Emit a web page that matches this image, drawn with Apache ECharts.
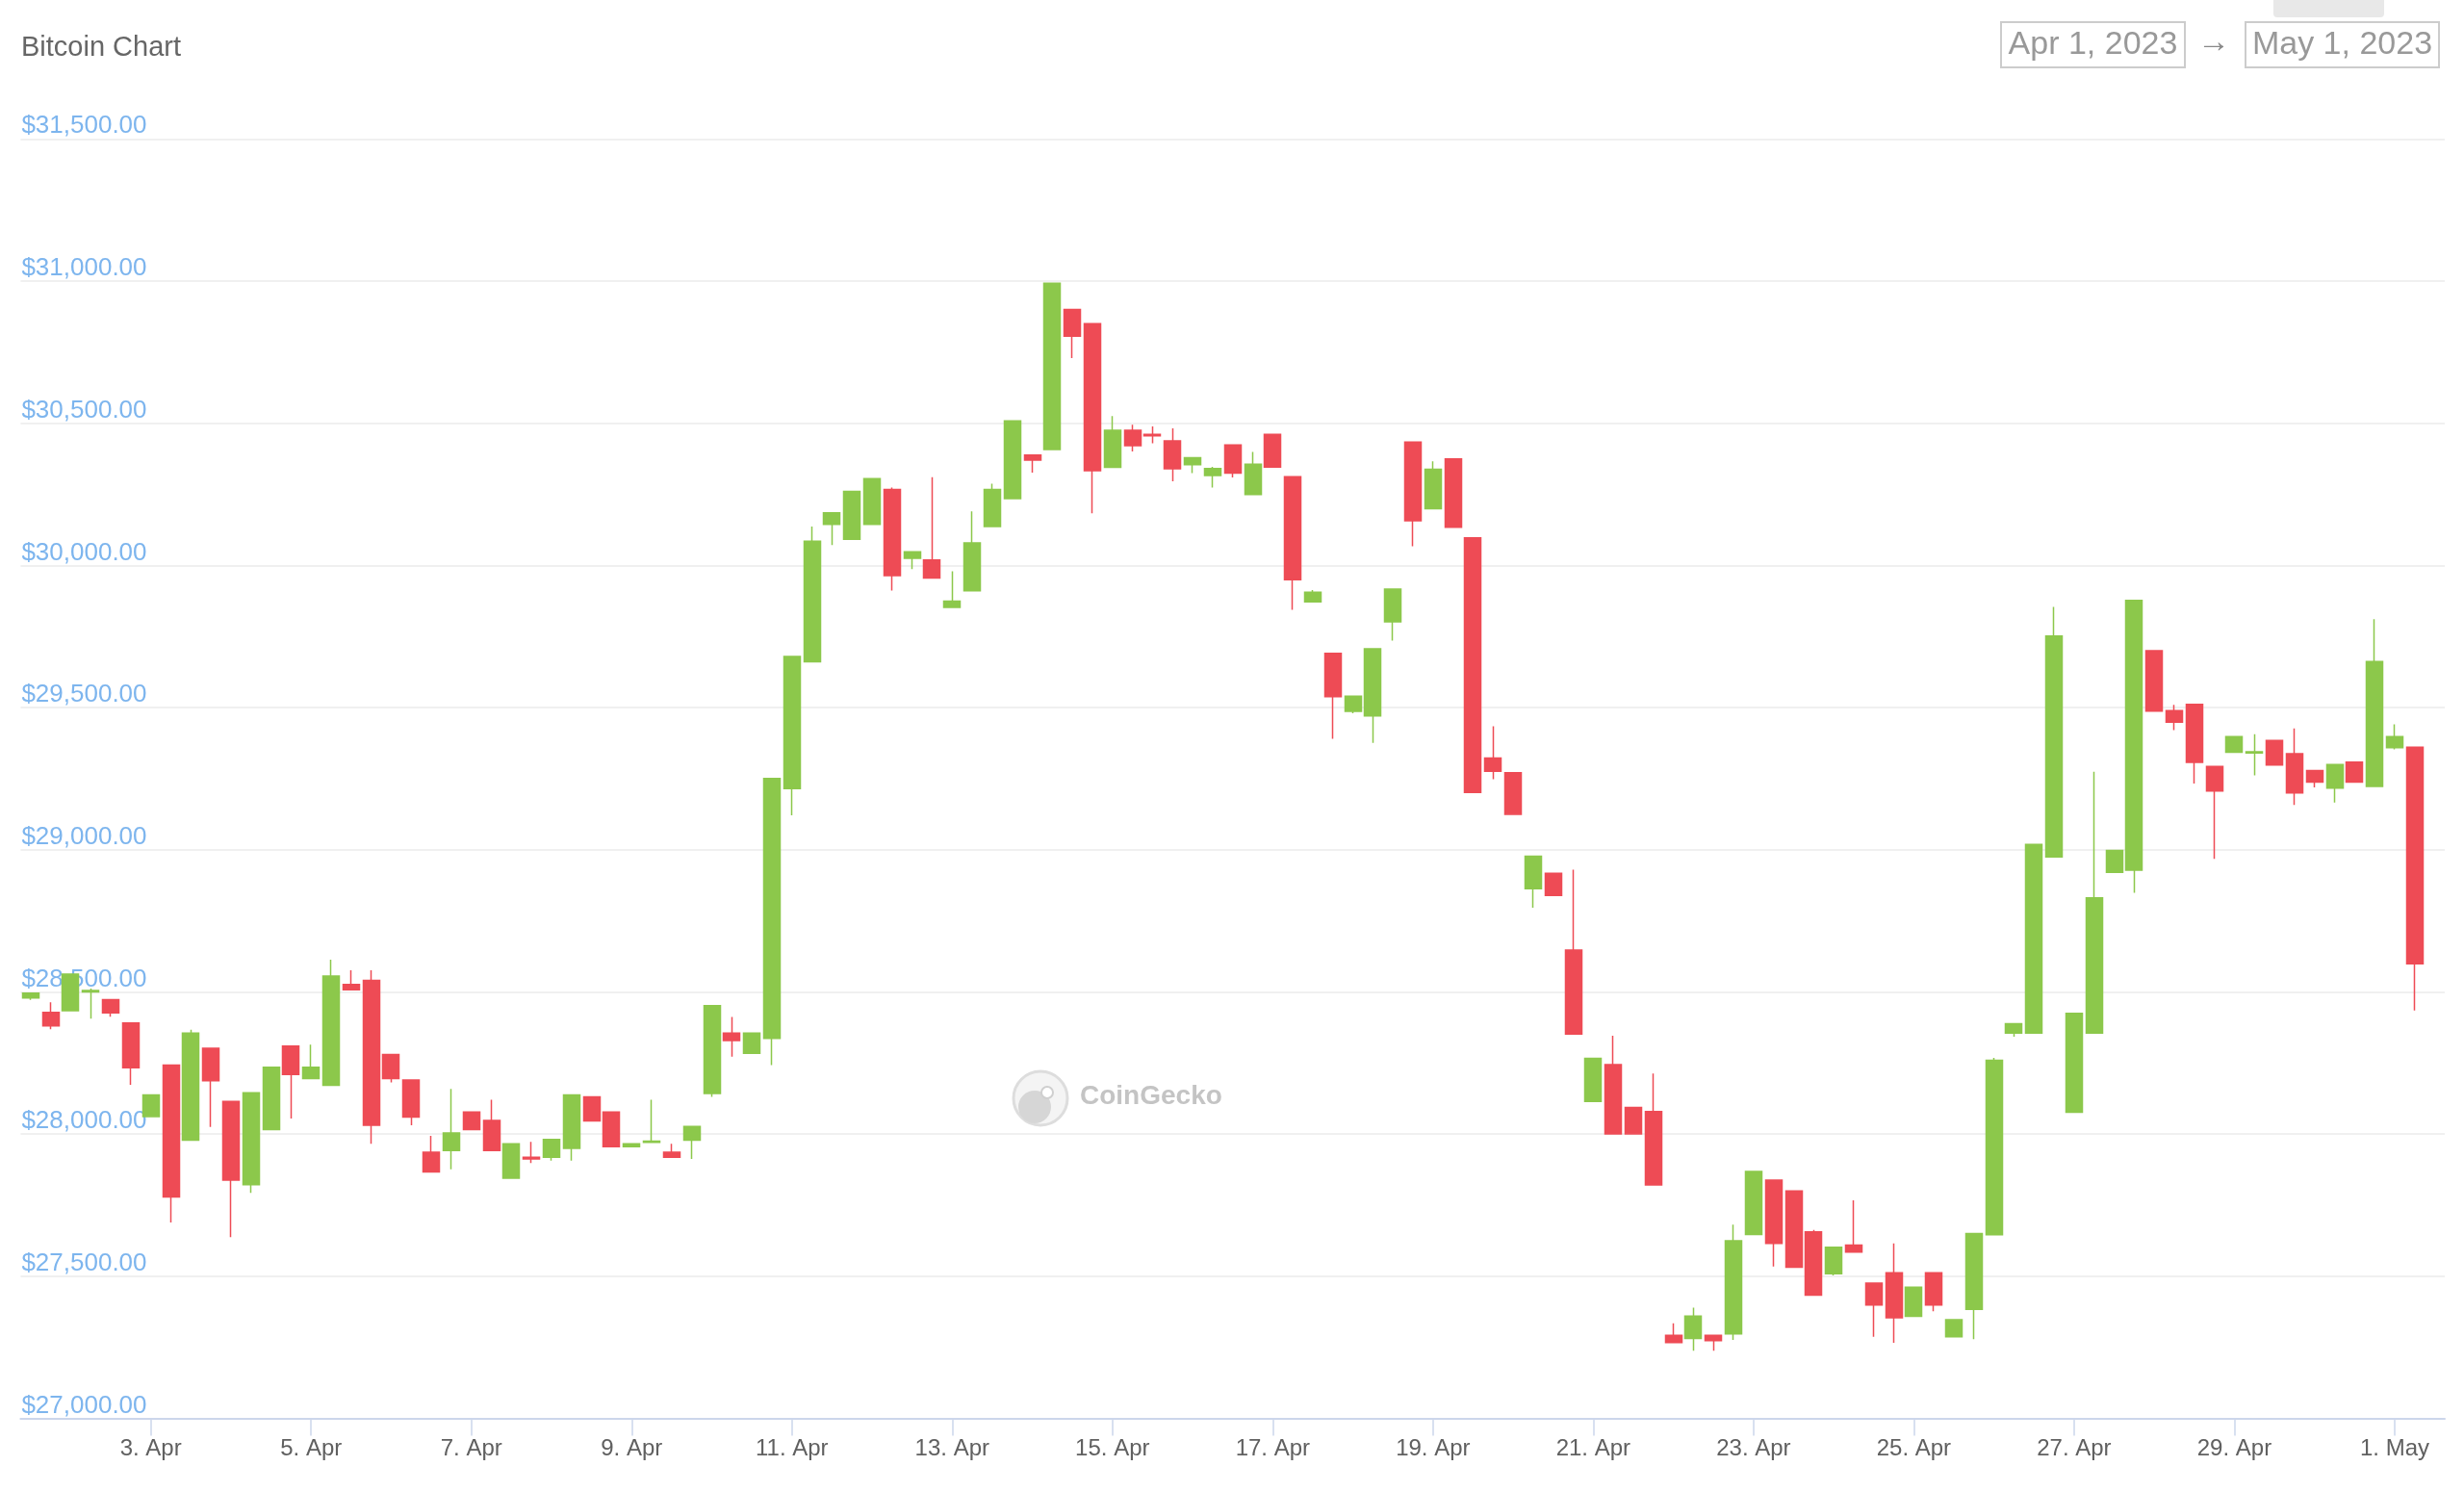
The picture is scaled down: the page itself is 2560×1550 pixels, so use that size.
<!DOCTYPE html>
<html>
<head>
<meta charset="utf-8">
<script src="https://cdn.jsdelivr.net/npm/echarts@6/dist/echarts.min.js"></script>
<style>
html,body{margin:0;padding:0;background:#fff;}
#chart{width:2560px;height:1550px;}
</style>
</head>
<body>
<div id="chart"></div>
<script>
// 6-hour candles, first at 2023-04-01 12:00
const opens = [28479,28428,28434,28500,28473,28391,28062,28243,27979,28302,28115,27822,28016,28310,28195,28172,28526,28541,28280,28190,27936,27942,28078,28048,27845,27919,27919,27950,28131,28078,27956,27971,27936,27979,28143,28355,28284,28337,29215,29661,30144,30092,30144,30267,30025,30019,29852,29911,30137,30235,30388,30408,30900,30850,30345,30475,30461,30438,30354,30316,30424,30249,30461,30312,29872,29691,29487,29471,29802,30434,30199,30375,30097,29323,29271,28863,28917,28647,28115,28244,28094,28079,27292,27281,27292,27297,27647,27838,27800,27656,27509,27610,27476,27512,27359,27512,27287,27384,27646,28355,28355,28975,28077,28355,28921,28928,29700,29489,29511,29293,29343,29340,29384,29338,29279,29217,29308,29223,29359,29361];
const closes = [28496,28381,28563,28505,28426,28233,28138,27779,28355,28188,27838,28145,28235,28210,28235,28556,28508,28031,28195,28060,27867,28004,28016,27942,27966,27913,27981,28138,28046,27956,27966,27975,27919,28027,28452,28329,28355,29251,29680,30085,30185,30260,30305,29964,30048,29956,29874,30079,30267,30508,30370,30992,30806,30333,30475,30421,30456,30340,30379,30341,30325,30356,30346,29950,29906,29538,29540,29707,29917,30157,30338,30134,29202,29276,29125,28977,28839,28352,28266,28001,28001,27821,27267,27360,27274,27625,27869,27616,27532,27434,27602,27585,27399,27354,27462,27399,27347,27650,28260,28388,29019,29752,28425,28831,28998,29877,29488,29449,29307,29207,29398,29345,29298,29200,29238,29300,29238,29662,29398,28599];
const lows = [28472,28369,28434,28406,28413,28173,28062,27689,27979,28025,27638,27793,28016,28055,28195,28172,28508,27966,28182,28031,27867,27876,28016,27942,27845,27898,27907,27907,28046,27956,27956,27971,27919,27913,28131,28272,28284,28243,29121,29661,30072,30092,30144,29912,29987,29956,29852,29911,30137,30235,30326,30408,30729,30183,30345,30401,30430,30296,30325,30274,30309,30249,30346,29844,29872,29390,29480,29376,29736,30067,30199,30134,29202,29248,29125,28796,28839,28352,28115,28001,28001,27821,27267,27238,27238,27276,27647,27534,27532,27434,27503,27585,27287,27266,27359,27377,27287,27279,27646,28343,28355,28975,28077,28355,28921,28849,29488,29421,29233,28968,29343,29262,29298,29158,29219,29166,29238,29223,29353,28435];
const highs = [28496,28464,28563,28512,28473,28391,28138,28243,28367,28302,28115,28145,28235,28310,28315,28613,28576,28576,28280,28190,27994,28159,28078,28121,27966,27973,27981,28138,28131,28078,27966,28121,27966,28027,28452,28412,28355,29251,29680,30137,30185,30260,30305,30274,30048,30310,29979,30190,30287,30508,30388,30992,30900,30850,30525,30495,30489,30482,30379,30347,30424,30399,30461,30312,29913,29691,29540,29707,29917,30434,30366,30375,30097,29434,29271,28977,28917,28930,28266,28346,28094,28213,27335,27390,27292,27682,27869,27838,27800,27663,27602,27767,27476,27616,27462,27512,27347,27650,28268,28388,29019,29854,28425,29274,28998,29877,29700,29510,29511,29293,29398,29406,29384,29427,29279,29300,29308,29811,29441,29361];

const tickLabels = ['3. Apr','5. Apr','7. Apr','9. Apr','11. Apr','13. Apr','15. Apr','17. Apr','19. Apr','21. Apr','23. Apr','25. Apr','27. Apr','29. Apr','1. May'];
const yMin = 27000, yMax = 31500, yStep = 500;

const startMs = Date.UTC(2023, 3, 1, 12);
const categories = opens.map((_, i) => {
  const d = new Date(startMs + i * 6 * 3600 * 1000);
  const p = n => String(n).padStart(2, '0');
  return d.getUTCFullYear() + '-' + p(d.getUTCMonth() + 1) + '-' + p(d.getUTCDate()) + ' ' + p(d.getUTCHours()) + ':00';
});
categories.push(''); // right padding slot

const ohlc = opens.map((o, i) => [o, closes[i], lows[i], highs[i]]);

const firstTick = 6, tickEvery = 8;
const isTick = idx => idx >= firstTick && (idx - firstTick) % tickEvery === 0 && (idx - firstTick) / tickEvery < tickLabels.length;

function money(v) {
  const s = Math.round(v).toString().replace(/\B(?=(\d{3})+(?!\d))/g, ',');
  return '$' + s + '.00';
}

const FONT = '"Liberation Sans", Arial, Helvetica, sans-serif';
const GREEN = '#8cc84b', RED = '#ee4b55';

const chart = echarts.init(document.getElementById('chart'), null, {renderer: 'canvas'});
chart.setOption({
  animation: false,
  backgroundColor: '#ffffff',
  grid: {left: 21.4, right: 20, top: 144.3, bottom: 76.4, containLabel: false, outerBoundsMode: 'none'},
  xAxis: {
    type: 'category',
    data: categories,
    boundaryGap: true,
    axisLine: {show: true, lineStyle: {color: '#ccd6eb', width: 2}},
    axisTick: {show: true, alignWithLabel: true, interval: isTick, length: 18, lineStyle: {color: '#ccd6eb', width: 1.5}},
    axisLabel: {
      show: true, interval: isTick, margin: 20,
      fontFamily: FONT, fontSize: 24, color: '#606060',
      formatter: (v, idx) => tickLabels[(idx - firstTick) / tickEvery] || ''
    },
    splitLine: {show: false}
  },
  yAxis: {
    type: 'value',
    min: yMin, max: yMax, interval: yStep,
    position: 'left',
    axisLine: {show: false},
    axisTick: {show: false},
    axisLabel: {
      inside: true, margin: 1, verticalAlign: 'bottom',
      fontFamily: FONT, fontSize: 26, color: '#7db5ee',
      formatter: v => money(v)
    },
    splitLine: {show: true, lineStyle: {color: '#f0f0f0', width: 2}}
  },
  series: [{
    type: 'candlestick',
    data: ohlc,
    barWidth: 17.5,
    itemStyle: {
      color: GREEN, color0: RED,
      borderColor: GREEN, borderColor0: RED,
      borderWidth: 1.5
    },
    z: 3
  }],
  graphic: [
    {type: 'text', left: 22, top: 35, style: {text: 'Bitcoin Chart', font: '29px ' + FONT, fill: '#666666'}},
    {type: 'rect', shape: {x: 2362, y: -6, width: 115, height: 24, r: 4}, style: {fill: '#e8e8e8'}},
    {type: 'rect', shape: {x: 2079, y: 23, width: 191, height: 47}, style: {fill: 'none', stroke: '#cccccc', lineWidth: 2}},
    {type: 'text', x: 2174.5, y: 47, style: {text: 'Apr 1, 2023', font: '34px ' + FONT, fill: '#999999', textAlign: 'center', textVerticalAlign: 'middle'}},
    {type: 'text', x: 2300, y: 45, style: {text: '→', font: '34px ' + FONT, fill: '#888888', textAlign: 'center', textVerticalAlign: 'middle'}},
    {type: 'rect', shape: {x: 2333, y: 23, width: 201, height: 47}, style: {fill: 'none', stroke: '#cccccc', lineWidth: 2}},
    {type: 'text', x: 2433.5, y: 47, style: {text: 'May 1, 2023', font: '34px ' + FONT, fill: '#999999', textAlign: 'center', textVerticalAlign: 'middle'}},
    // watermark
    {type: 'circle', shape: {cx: 1081, cy: 1141, r: 28}, style: {fill: '#f4f4f4', stroke: '#dddddd', lineWidth: 3}, z: 1},
    {type: 'circle', shape: {cx: 1075, cy: 1150, r: 17}, style: {fill: '#d6d6d6'}, z: 1},
    {type: 'circle', shape: {cx: 1088, cy: 1135, r: 6}, style: {fill: '#ffffff', stroke: '#cfcfcf', lineWidth: 2}, z: 1},
    {type: 'text', left: 1122, top: 1125, z: 1, style: {text: 'CoinGecko', font: '600 28px ' + FONT, fill: '#c4c4c4'}}
  ]
});
</script>
</body>
</html>
